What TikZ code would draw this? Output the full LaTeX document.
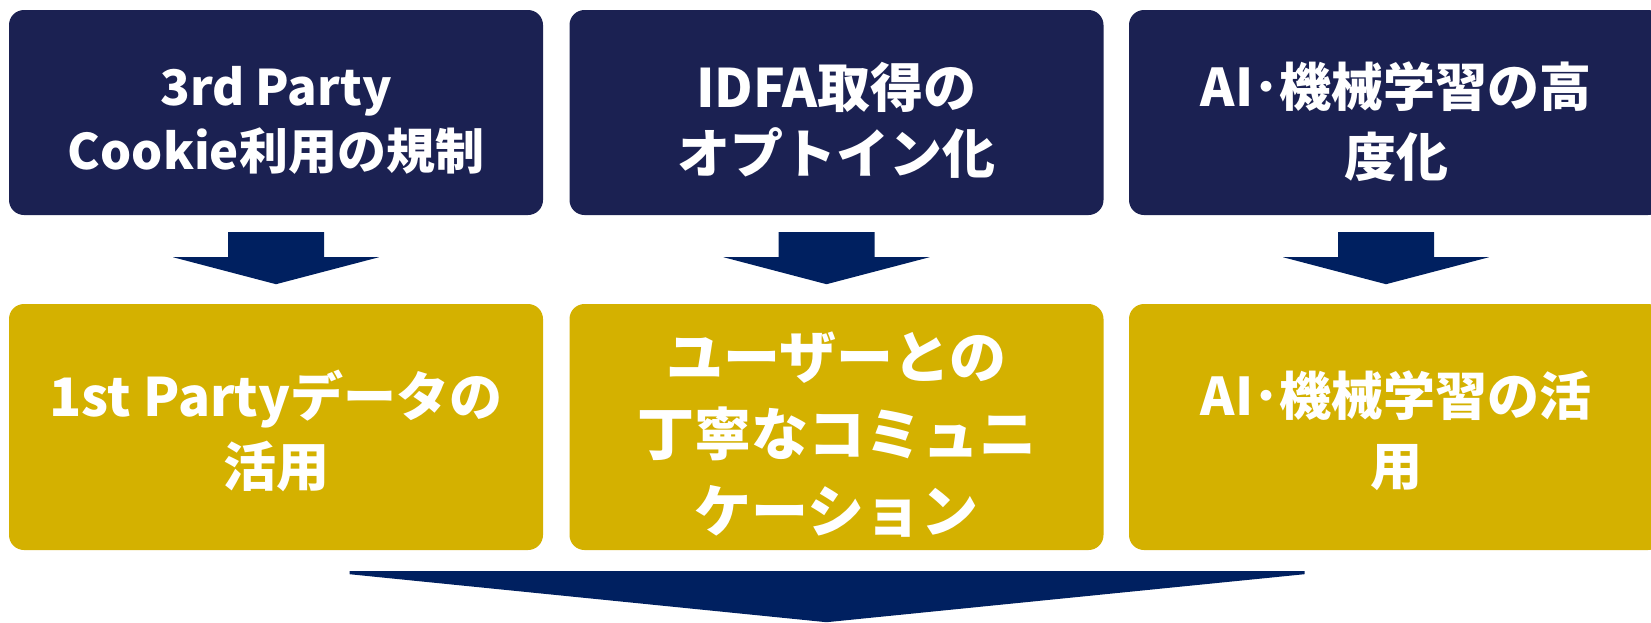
\documentclass[tikz,border=0pt]{standalone}
\usepackage{fontspec}
\setmainfont{Noto Sans CJK JP}
\usetikzlibrary{calc}
\definecolor{navybox}{RGB}{27,33,82}
\definecolor{navyarrow}{RGB}{0,32,96}
\definecolor{goldbox}{RGB}{212,177,0}
\tikzset{
  topbox/.style={fill=navybox, rounded corners=15pt, minimum width=534pt, minimum height=205pt, inner sep=0pt},
  goldbox/.style={fill=goldbox, rounded corners=15pt, minimum width=534pt, minimum height=246pt, inner sep=0pt},
  boxtext/.style={text=white, align=center, inner sep=0pt, font=\bfseries\fontsize{49}{64}\selectfont},
  blockarrow/.style={fill=navyarrow}
}
\begin{document}
\begin{tikzpicture}[x=1pt,y=-1pt]
\useasboundingbox (0,0) rectangle (1651,622);
\clip (0,0) rectangle (1651,622);
% top boxes
\node[topbox] (t1) at (276,112.5) {};
\node[topbox] (t2) at (836.5,112.5) {};
\node[topbox] (t3) at (1396,112.5) {};
\node[boxtext] (t1text) at ($(t1)+(0,8)$) {3rd Party\\Cookie利用の規制};
\node[boxtext, font=\bfseries\fontsize{53}{66}\selectfont] (t2text) at ($(t2)+(0,8)$) {IDFA取得の\\オプトイン化};
\node[boxtext, font=\bfseries\fontsize{52}{70}\selectfont] (t3text) at ($(t3)+(0,9)$) {AI･機械学習の高\\度化};
% gold boxes
\node[goldbox] (g1) at (276,427) {};
\node[goldbox] (g2) at (836.5,427) {};
\node[goldbox] (g3) at (1396,427) {};
\node[boxtext, font=\bfseries\fontsize{53}{70}\selectfont] (g1text) at ($(g1)+(0,4)$) {1st Partyデータの\\活用};
\node[boxtext, font=\bfseries\fontsize{57}{77}\selectfont] (g2text) at ($(g2)+(0,8)$) {ユーザーとの\\丁寧なコミュニ\\ケーション};
\node[boxtext, font=\bfseries\fontsize{52}{70}\selectfont] (g3text) at ($(g3)+(0,4)$) {AI･機械学習の活\\用};
% small block arrows
\foreach \b/\dx in {t1/0, t2/-10, t3/-10}{
  \fill[blockarrow] ($(\b.south)+(\dx-48,17)$) -- ++(96,0) -- ++(0,25) -- ++(55,0)
    -- ($(\b.south)+(\dx,69)$) -- ($(\b.south)+(\dx-103,42)$) -- ++(55,0) -- cycle;
}
% big block arrow
\coordinate (bigtip) at ($(g2.south)+(-10,72)$);
\fill[blockarrow] ($(g2.south)+(-487,21)$) -- ($(g2.south)+(468,21)$) -- ++(0,3)
  -- (bigtip) -- ($(g2.south)+(-487,24)$) -- cycle;
\end{tikzpicture}
\end{document}
